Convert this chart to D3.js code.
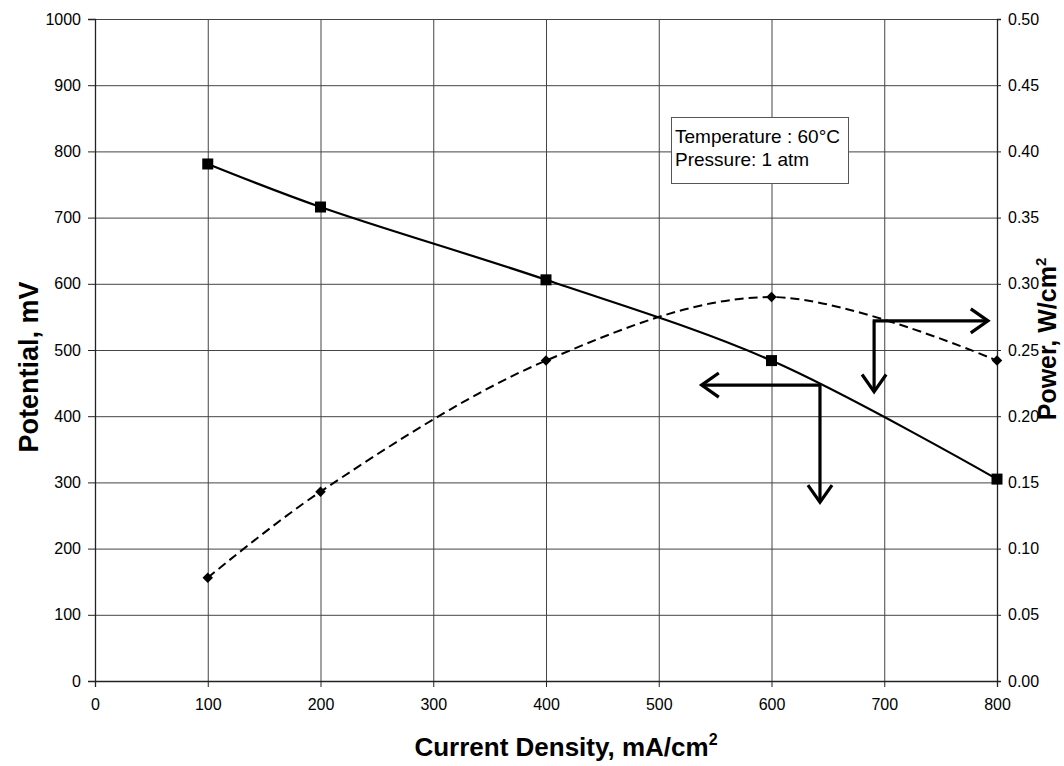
<!DOCTYPE html>
<html><head><meta charset="utf-8">
<script src="https://cdn.jsdelivr.net/npm/d3@7/dist/d3.min.js"></script>
<style>body{margin:0;background:#fff}svg{display:block}text{font-family:"Liberation Sans",Arial,sans-serif}</style>
</head><body>
<svg id="c" width="1064" height="766"></svg>
<script>
const currentDensity = [100, 200, 400, 600, 800];
const potential = [781, 716, 606, 484, 305];
const power = [0.078, 0.143, 0.242, 0.290, 0.242];
const xTicks = [0,100,200,300,400,500,600,700,800];
const yTicks = [0,100,200,300,400,500,600,700,800,900,1000];
const y2Ticks = [0,0.05,0.10,0.15,0.20,0.25,0.30,0.35,0.40,0.45,0.50];
const infoLines = ["Temperature : 60°C", "Pressure: 1 atm"];
// arrow annotations in data units: corner, tip (x in mA/cm2, y in mV)
const arrowPotential = {corner:[643,447], left:538, down:270};
const arrowPower = {corner:[691,544], right:792, down:437};

const svg = d3.select("#c");
const L=95, R=997, T=19, B=681;
const x = d3.scaleLinear().domain([0,800]).range([L,R]);
const y = d3.scaleLinear().domain([0,1000]).range([B,T]);
const y2 = d3.scaleLinear().domain([0,0.5]).range([B,T]);

// grid
const g = svg.append("g");
g.selectAll(".hg").data(yTicks).enter().append("line")
  .attr("x1",L).attr("x2",R).attr("y1",d=>y(d)+0.5).attr("y2",d=>y(d)+0.5)
  .attr("stroke","#444").attr("stroke-width",1);
g.selectAll(".vg").data(xTicks).enter().append("line")
  .attr("y1",T).attr("y2",B).attr("x1",d=>x(d)+0.5).attr("x2",d=>x(d)+0.5)
  .attr("stroke","#444").attr("stroke-width",1);

// axes
const fmtL = d3.format("d");
const ax = svg.append("g").attr("transform",`translate(0,${B})`)
  .call(d3.axisBottom(x).tickValues(xTicks).tickSize(6).tickPadding(12).tickFormat(fmtL));
const ay = svg.append("g").attr("transform",`translate(${L},0)`)
  .call(d3.axisLeft(y).tickValues(yTicks).tickSize(7).tickPadding(7).tickFormat(fmtL));
const ay2 = svg.append("g").attr("transform",`translate(${R},0)`)
  .call(d3.axisRight(y2).tickValues(y2Ticks).tickSize(4).tickPadding(7).tickFormat(d3.format(".2f")));
[ax,ay,ay2].forEach(a=>{
  a.select(".domain").attr("stroke","#222").attr("stroke-width",1.3);
  a.selectAll(".tick line").attr("stroke","#222");
  a.selectAll("text").attr("font-size",16).attr("fill","#000");
});

// lines
const line1 = d3.line().x((d,i)=>x(currentDensity[i])).y(d=>y(d)).curve(d3.curveCatmullRom.alpha(0.5));
const line2 = d3.line().x((d,i)=>x(currentDensity[i])).y(d=>y2(d)).curve(d3.curveCatmullRom.alpha(0.5));
svg.append("path").attr("d",line1(potential)).attr("fill","none").attr("stroke","#000").attr("stroke-width",2.2);
svg.append("path").attr("d",line2(power)).attr("fill","none").attr("stroke","#000").attr("stroke-width",2).attr("stroke-dasharray","9,5");

svg.selectAll(".sq").data(potential).enter().append("rect")
  .attr("x",(d,i)=>x(currentDensity[i])-5.5).attr("y",d=>y(d)-5.5).attr("width",11).attr("height",11).attr("fill","#000");
svg.selectAll(".dm").data(power).enter().append("path")
  .attr("d",d3.symbol().type(d3.symbolDiamond2).size(70))
  .attr("transform",(d,i)=>`translate(${x(currentDensity[i])},${y2(d)})`).attr("fill","#000");

// arrows
function head(px,py,dir){
  const a=Math.PI/180*35, len=21;
  const p1=[px-len*Math.cos(dir-a), py-len*Math.sin(dir-a)];
  const p2=[px-len*Math.cos(dir+a), py-len*Math.sin(dir+a)];
  return `M${p1[0]},${p1[1]}L${px},${py}L${p2[0]},${p2[1]}`;
}
const arw = svg.append("g").attr("fill","none").attr("stroke","#000").attr("stroke-width",3.2);
{
  const cx=x(arrowPotential.corner[0]), cy=y(arrowPotential.corner[1]);
  const lx=x(arrowPotential.left), dy=y(arrowPotential.down);
  arw.append("path").attr("d",`M${cx},${cy}L${lx},${cy}M${cx},${cy-1.5}L${cx},${dy}`);
  arw.append("path").attr("d",head(lx,cy,Math.PI));
  arw.append("path").attr("d",head(cx,dy,Math.PI/2));
}
{
  const cx=x(arrowPower.corner[0]), cy=y(arrowPower.corner[1]);
  const rx=x(arrowPower.right), dy=y(arrowPower.down);
  arw.append("path").attr("d",`M${cx-1.5},${cy}L${rx},${cy}M${cx},${cy}L${cx},${dy}`);
  arw.append("path").attr("d",head(rx,cy,0));
  arw.append("path").attr("d",head(cx,dy,Math.PI/2));
}

// info box
svg.append("rect").attr("x",671.5).attr("y",117.5).attr("width",177).attr("height",66)
  .attr("fill","#fff").attr("stroke","#555").attr("stroke-width",1);
svg.selectAll(".info").data(infoLines).enter().append("text")
  .attr("x",675).attr("y",(d,i)=>143+i*23).attr("font-size",19).text(d=>d);

// axis titles
const xt = svg.append("text").attr("x",566).attr("y",756).attr("text-anchor","middle")
  .attr("font-size",26).attr("font-weight","bold");
xt.append("tspan").text("Current Density, mA/cm");
xt.append("tspan").attr("font-size",16).attr("dy",-11).text("2");
svg.append("text").attr("transform","translate(38,367) rotate(-90)").attr("text-anchor","middle")
  .attr("font-size",27).attr("font-weight","bold").text("Potential, mV");
const yt = svg.append("text").attr("transform","translate(1056,339) rotate(-90)").attr("text-anchor","middle")
  .attr("font-size",25).attr("font-weight","bold");
yt.append("tspan").text("Power, W/cm");
yt.append("tspan").attr("font-size",15).attr("dy",-10).text("2");
</script>
</body></html>
